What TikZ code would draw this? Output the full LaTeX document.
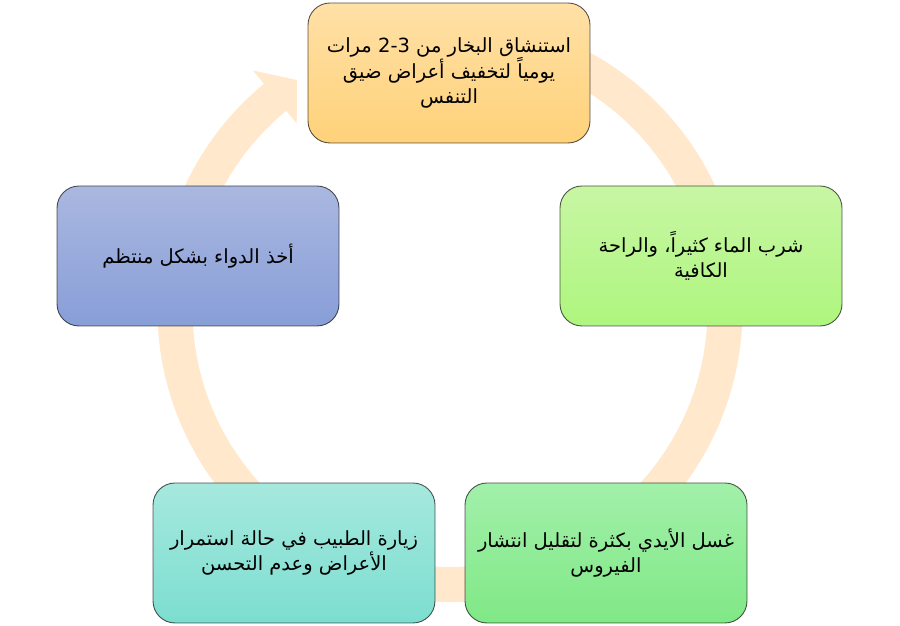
\documentclass[tikz,border=0pt]{standalone}
\usepackage{fontspec}
\setmainfont{DejaVu Sans}
\newfontfamily\arabicfont[Script=Arabic]{DejaVu Sans}
\TeXXeTstate=1
\definecolor{ringc}{RGB}{255,232,204}
\definecolor{topA}{RGB}{255,224,166}\definecolor{topB}{RGB}{255,210,122}
\definecolor{rgtA}{RGB}{200,246,164}\definecolor{rgtB}{RGB}{174,246,126}
\definecolor{brA}{RGB}{162,240,170}\definecolor{brB}{RGB}{128,232,134}
\definecolor{blA}{RGB}{166,232,222}\definecolor{blB}{RGB}{124,222,208}
\definecolor{lftA}{RGB}{170,184,224}\definecolor{lftB}{RGB}{136,158,216}
\tikzset{
  cyclebox/.style={draw=black, draw opacity=0.65, line width=0.9pt,
    rounded corners=22pt, minimum width=282pt, minimum height=140pt,
    align=center, inner sep=0pt,
    font=\arabicfont\fontsize{19.5}{25.5}\selectfont}
}
\begin{document}
\begin{tikzpicture}[x=1pt,y=1pt]
\useasboundingbox (0,0) rectangle (900,626);
% circular arrow
\begin{scope}[shift={(450,316.5)}]
\fill[ringc] (80:292.5) arc[start angle=80, end angle=-230.5, radius=292.5]
  -- (-230.5:309.8) -- (123.7:275.8) -- (-230.5:241) -- (-230.5:257.5)
  arc[start angle=-230.5, end angle=80, radius=257.5] -- cycle;
\end{scope}
\node[cyclebox, top color=topA, bottom color=topB] (n1) at (449,553)
  {\beginR استنشاق البخار من 2-3 مرات\endR\\
   \beginR يومياً لتخفيف أعراض ضيق\endR\\
   \beginR التنفس\endR};
\node[cyclebox, top color=rgtA, bottom color=rgtB] (n2) at (701,370)
  {\beginR شرب الماء كثيراً، والراحة\endR\\
   \beginR الكافية\endR};
\node[cyclebox, top color=brA, bottom color=brB] (n3) at (606,73)
  {\beginR غسل الأيدي بكثرة لتقليل انتشار\endR\\
   \beginR الفيروس\endR};
\node[cyclebox, top color=blA, bottom color=blB] (n4) at (294,73)
  {\beginR زيارة الطبيب في حالة استمرار\endR\\
   \beginR الأعراض وعدم التحسن\endR};
\node[cyclebox, top color=lftA, bottom color=lftB] (n5) at (198,370)
  {\beginR أخذ الدواء بشكل منتظم\endR};
\end{tikzpicture}
\end{document}
